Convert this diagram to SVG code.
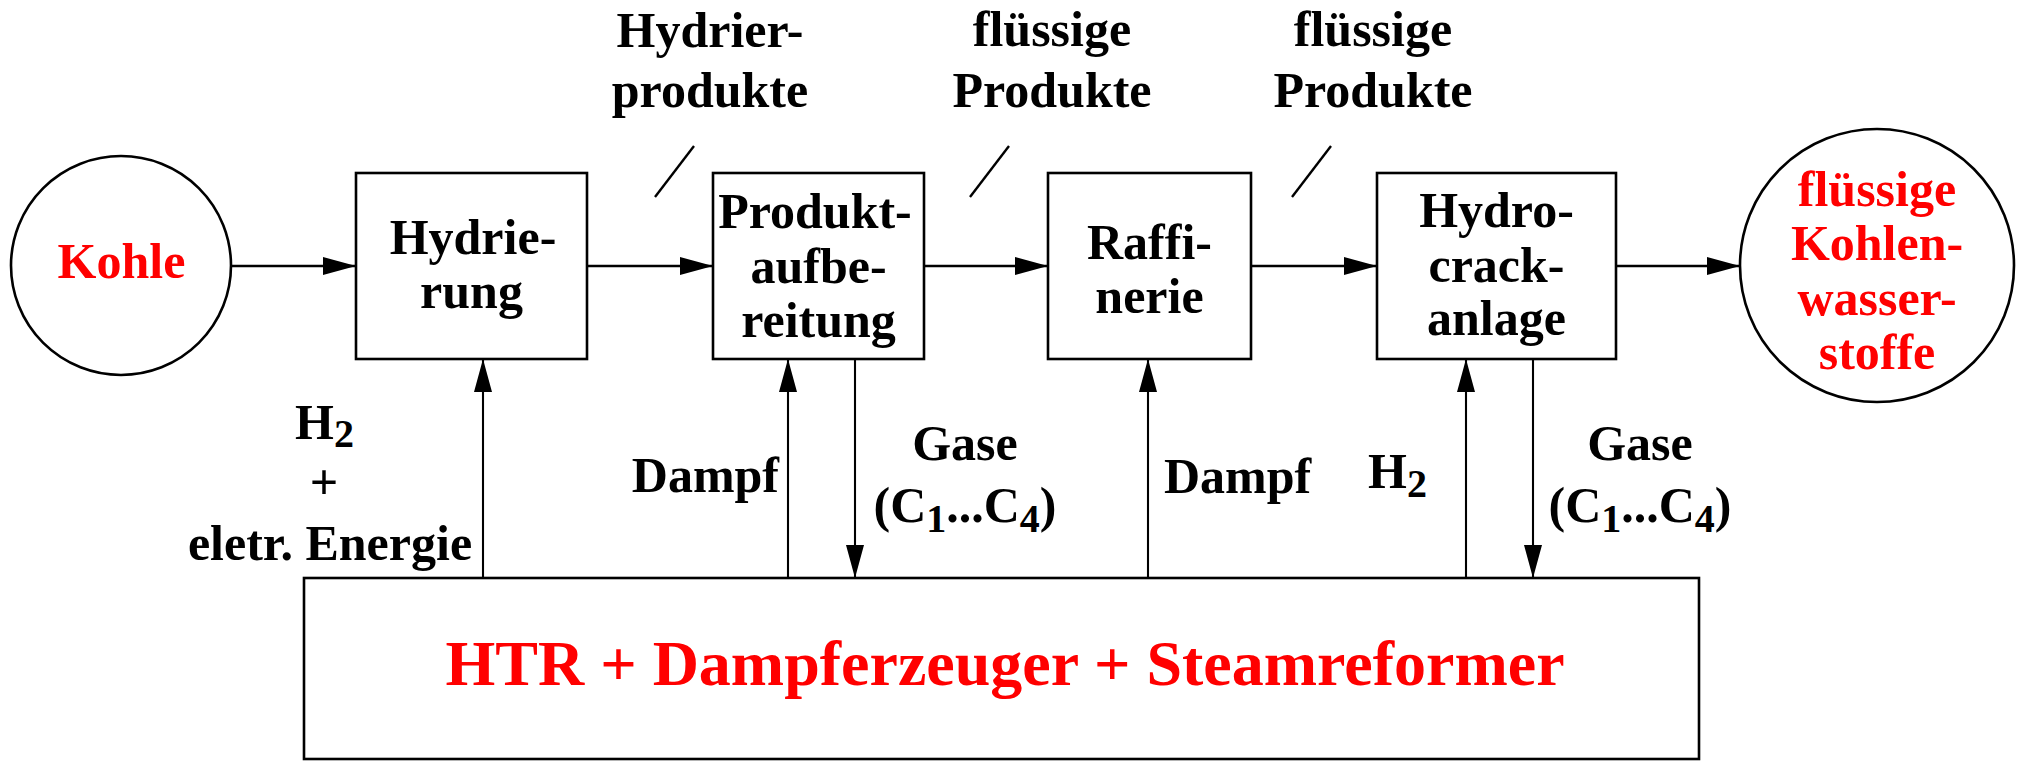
<svg xmlns="http://www.w3.org/2000/svg" width="2022" height="761" viewBox="0 0 2022 761">
<style>
  text { font-family: "Liberation Serif", "Times New Roman", serif; font-weight: bold; font-size: 50px; fill: #000; }
  .c { text-anchor: middle; }
  .red { fill: #ff0000; }
  .sub { font-size: 40px; }
  .box { fill: #fff; stroke: #000; stroke-width: 2.6; }
  .h { stroke: #000; stroke-width: 2.6; fill: none; }
  .v { stroke: #000; stroke-width: 2.1; fill: none; }
  .slash { stroke: #000; stroke-width: 2.4; fill: none; }
</style>
<defs>
  <marker id="ah" viewBox="0 0 33 18" refX="33" refY="9" markerWidth="33" markerHeight="18" markerUnits="userSpaceOnUse" orient="auto">
    <path d="M0,0 L33,9 L0,18 z" fill="#000"/>
  </marker>
</defs>
<rect width="2022" height="761" fill="#fff"/>

<g id="connectors">
  <line class="h" x1="231" y1="266" x2="356" y2="266" marker-end="url(#ah)"/>
  <line class="h" x1="587" y1="266" x2="713" y2="266" marker-end="url(#ah)"/>
  <line class="h" x1="924" y1="266" x2="1048" y2="266" marker-end="url(#ah)"/>
  <line class="h" x1="1251" y1="266" x2="1377" y2="266" marker-end="url(#ah)"/>
  <line class="h" x1="1616" y1="266" x2="1740" y2="266" marker-end="url(#ah)"/>
  <line class="v" x1="483" y1="578" x2="483" y2="359" marker-end="url(#ah)"/>
  <line class="v" x1="788" y1="578" x2="788" y2="359" marker-end="url(#ah)"/>
  <line class="v" x1="855" y1="359" x2="855" y2="578" marker-end="url(#ah)"/>
  <line class="v" x1="1148" y1="578" x2="1148" y2="359" marker-end="url(#ah)"/>
  <line class="v" x1="1466" y1="578" x2="1466" y2="359" marker-end="url(#ah)"/>
  <line class="v" x1="1533" y1="359" x2="1533" y2="578" marker-end="url(#ah)"/>
  <line class="slash" x1="655" y1="197" x2="694" y2="146"/>
  <line class="slash" x1="970" y1="197" x2="1009" y2="146"/>
  <line class="slash" x1="1292" y1="197" x2="1331" y2="146"/>
</g>

<g id="kohle">
  <ellipse class="box" cx="121" cy="265.5" rx="110" ry="109.5"/>
  <text class="c red" x="121.5" y="278">Kohle</text>
</g>

<g id="hydrierung">
  <rect class="box" x="356" y="173" width="231" height="186"/>
  <text class="c" x="473" y="254">Hydrie-</text>
  <text class="c" x="471.5" y="308">rung</text>
</g>

<g id="produktaufbereitung">
  <rect class="box" x="713" y="173" width="211" height="186"/>
  <text class="c" x="815" y="228">Produkt-</text>
  <text class="c" x="818.5" y="282.5">aufbe-</text>
  <text class="c" x="818.5" y="337">reitung</text>
</g>

<g id="raffinerie">
  <rect class="box" x="1048" y="173" width="203" height="186"/>
  <text class="c" x="1149.5" y="259">Raffi-</text>
  <text class="c" x="1149.5" y="313">nerie</text>
</g>

<g id="hydrocrackanlage">
  <rect class="box" x="1377" y="173" width="239" height="186"/>
  <text class="c" x="1496.5" y="227">Hydro-</text>
  <text class="c" x="1496.5" y="281.5">crack-</text>
  <text class="c" x="1496.5" y="335">anlage</text>
</g>

<g id="kohlenwasserstoffe">
  <ellipse class="box" cx="1877" cy="265.5" rx="137" ry="136.5"/>
  <text class="c red" x="1877" y="206">flüssige</text>
  <text class="c red" x="1877" y="260">Kohlen-</text>
  <text class="c red" x="1877" y="315">wasser-</text>
  <text class="c red" x="1877" y="369">stoffe</text>
</g>

<g id="htr">
  <rect class="box" x="304" y="578" width="1395" height="181"/>
  <text class="c red" x="1005" y="685" style="font-size:64px">HTR + Dampferzeuger + Steamreformer</text>
</g>

<g id="labels">
  <text class="c" x="710" y="47">Hydrier-</text>
  <text class="c" x="710" y="107">produkte</text>
  <text class="c" x="1052" y="46">flüssige</text>
  <text class="c" x="1052" y="107">Produkte</text>
  <text class="c" x="1373" y="46">flüssige</text>
  <text class="c" x="1373" y="107">Produkte</text>

  <text x="295" y="439">H<tspan class="sub" dy="8">2</tspan></text>
  <text class="c" x="324" y="499">+</text>
  <text class="c" x="330" y="560">eletr. Energie</text>

  <text x="779" y="492" style="text-anchor:end">Dampf</text>
  <text class="c" x="965" y="460">Gase</text>
  <text class="c" x="965" y="522">(C<tspan class="sub" dy="10">1</tspan><tspan dy="-10">...C</tspan><tspan class="sub" dy="10">4</tspan><tspan dy="-10">)</tspan></text>

  <text x="1164" y="493">Dampf</text>
  <text x="1368" y="488">H<tspan class="sub" dy="8.5">2</tspan></text>
  <text class="c" x="1640" y="460">Gase</text>
  <text class="c" x="1640" y="522">(C<tspan class="sub" dy="10">1</tspan><tspan dy="-10">...C</tspan><tspan class="sub" dy="10">4</tspan><tspan dy="-10">)</tspan></text>
</g>
</svg>
